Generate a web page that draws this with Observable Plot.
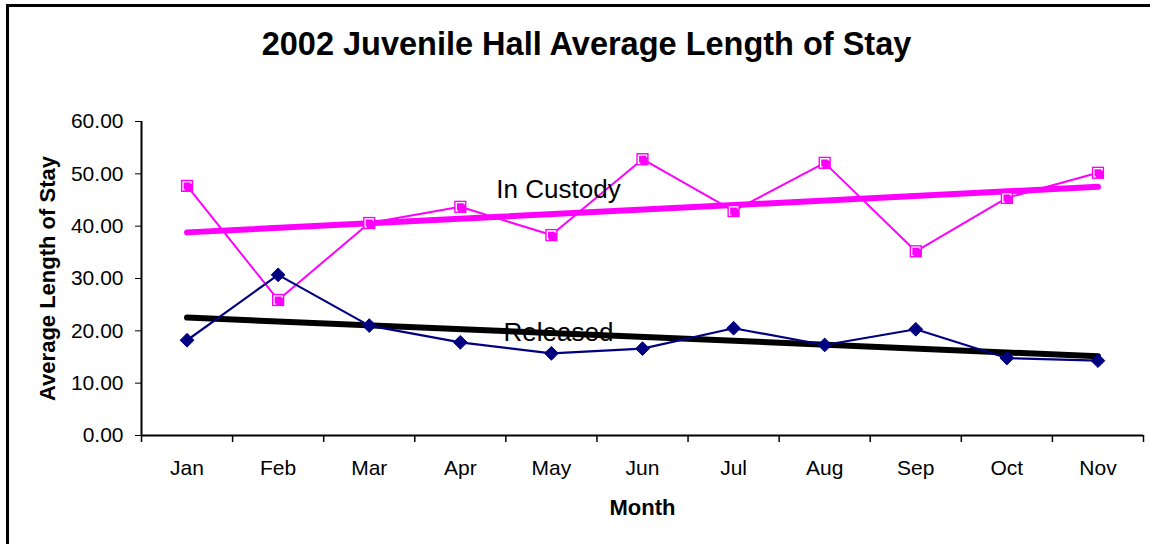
<!DOCTYPE html>
<html>
<head>
<meta charset="utf-8">
<script src="https://cdn.jsdelivr.net/npm/d3@7"></script>
<script src="https://cdn.jsdelivr.net/npm/@observablehq/plot@0.6"></script>
<style>
  html, body { margin: 0; padding: 0; background: #fff; overflow: hidden; }
  #wrap { position: relative; width: 1150px; height: 544px; font-family: "Liberation Sans", Arial, sans-serif; }
  #frame { position: absolute; left: 6px; top: 4px; width: 1200px; height: 600px; border-top: 3px solid #000; border-left: 3px solid #000; box-sizing: border-box; }
  #chart { position: absolute; left: 0; top: 0; }
</style>
</head>
<body>
<div id="wrap">
  <div id="frame"></div>
  <div id="chart"></div>
</div>
<script>
const title = "2002 Juvenile Hall Average Length of Stay";
const months = ["Jan", "Feb", "Mar", "Apr", "May", "Jun", "Jul", "Aug", "Sep", "Oct", "Nov"];
const inCustody = [47.7, 25.9, 40.6, 43.7, 38.3, 52.8, 42.9, 52.1, 35.2, 45.4, 50.2];
const released = [18.2, 30.7, 21.0, 17.8, 15.7, 16.6, 20.5, 17.3, 20.3, 14.8, 14.3];
const yTicks = [0, 10, 20, 30, 40, 50, 60];

const custodyData = months.map((m, i) => ({i, month: m, value: inCustody[i]}));
const releasedData = months.map((m, i) => ({i, month: m, value: released[i]}));
const idx = months.map((m, i) => i);
const bounds = [...idx.map(i => i - 0.5), months.length - 0.5];

const font = "Liberation Sans, Arial, sans-serif";
const magenta = "#ff00ff";
const navy = "#000080";

const chart = Plot.plot({
  width: 1150,
  height: 544,
  marginLeft: 141,
  marginRight: 7,
  marginTop: 121,
  marginBottom: 109,
  style: {fontFamily: font, fontSize: "21px", color: "#000", background: "transparent", overflow: "visible"},
  x: {type: "linear", domain: [-0.5, months.length - 0.5]},
  y: {domain: [0, 60]},
  marks: [
    // title
    Plot.text([title], {frameAnchor: "top", dx: -56, dy: -77, lineAnchor: "middle", fontWeight: "bold", fontSize: 32.5, text: d => d}),
    // y axis
    Plot.axisY({ticks: yTicks, tickFormat: d => d.toFixed(2), tickSize: 6, tickPadding: 12, fontSize: 21, label: null}),
    Plot.ruleX([-0.5], {stroke: "#000", strokeWidth: 2}),
    Plot.text(["Average Length of Stay"], {frameAnchor: "left", textAnchor: "middle", rotate: -90, dx: -94, fontWeight: "bold", fontSize: 22, text: d => d}),
    // x axis
    Plot.ruleY([0], {stroke: "#000", strokeWidth: 2}),
    Plot.axisX({ticks: bounds, tickFormat: () => "", tickSize: 7, strokeWidth: 1.5, label: null}),
    Plot.axisX({ticks: idx, tickFormat: i => months[i], tickSize: 0, tickPadding: 25, fontSize: 21, label: null}),
    Plot.text(["Month"], {frameAnchor: "bottom", dy: 72, lineAnchor: "middle", fontWeight: "bold", fontSize: 22, text: d => d}),
    // trend lines
    Plot.linearRegressionY(custodyData, {x: "i", y: "value", stroke: magenta, strokeWidth: 6, ci: 0}),
    Plot.linearRegressionY(releasedData, {x: "i", y: "value", stroke: "#000000", strokeWidth: 6, ci: 0}),
    // series
    Plot.line(custodyData, {x: "i", y: "value", stroke: magenta, strokeWidth: 2}),
    Plot.line(releasedData, {x: "i", y: "value", stroke: navy, strokeWidth: 2.2}),
    Plot.dot(releasedData, {x: "i", y: "value", symbol: "diamond2", r: 6.2, fill: navy, stroke: navy, strokeWidth: 1}),
    Plot.dot(custodyData, {x: "i", y: "value", symbol: "square2", r: 7.8, fill: magenta, stroke: "none"}),
    Plot.dot(custodyData, {x: "i", y: "value", symbol: "square2", r: 5.2, fill: "none", stroke: "#ffffff", strokeWidth: 1.3}),
    Plot.dot(custodyData, {x: "i", y: "value", symbol: "square2", r: 4.8, dx: 1.5, dy: 1.5, fill: magenta, stroke: "none"}),
    // series labels
    Plot.text(["In Custody"], {x: 4.078, y: 46.9, text: d => d, fontSize: 26, fill: "#000"}),
    Plot.text(["Released"], {x: 4.078, y: 19.6, text: d => d, fontSize: 26, fill: "#000"})
  ]
});
document.getElementById("chart").appendChild(chart);
</script>
</body>
</html>
